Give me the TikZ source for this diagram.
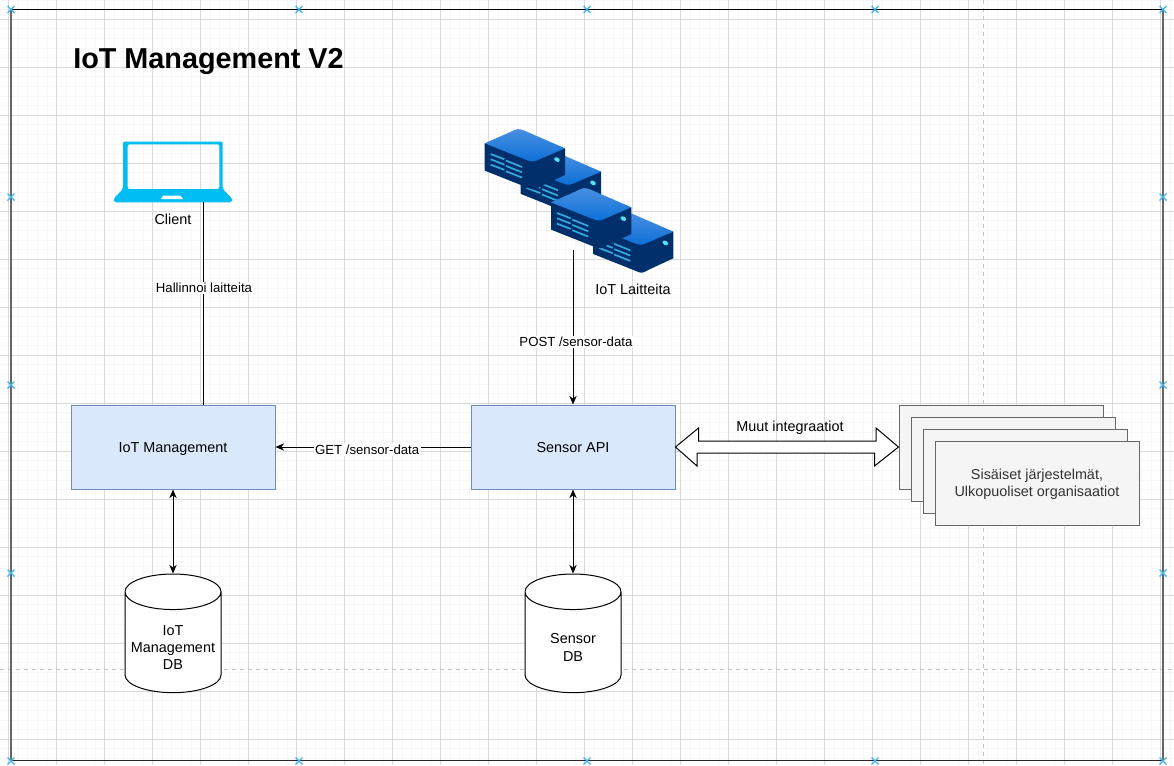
\documentclass[tikz,border=0pt]{standalone}
\usepackage{fontspec}
\setmainfont{Liberation Sans}
\usetikzlibrary{positioning}
\usetikzlibrary{arrows.meta}
\usetikzlibrary{shapes.geometric}
\definecolor{gridmin}{HTML}{F7F7F7}
\definecolor{gridmaj}{HTML}{D9D9D9}
\definecolor{pageln}{HTML}{C4C4C4}
\definecolor{marker}{HTML}{3DB5EE}
\definecolor{laptop}{HTML}{00BEF2}
\definecolor{apifill}{HTML}{DAE8FC}
\definecolor{apidraw}{HTML}{6C8EBF}
\definecolor{sysfill}{HTML}{F5F5F5}
\definecolor{sysdraw}{HTML}{666666}
\definecolor{devtop}{HTML}{4A90E2}
\definecolor{devlow}{HTML}{0B6FD6}
\definecolor{devbody}{HTML}{002F6C}
\definecolor{devvent}{HTML}{35A9DC}
\definecolor{devled}{HTML}{4FE3F5}
\begin{document}
\begin{tikzpicture}[
            x=0.75pt, y=-0.75pt,
            >={Stealth[length=6.5pt,width=5.5pt]},
            apibox/.style={rectangle, draw=apidraw, fill=apifill, line width=0.75pt, minimum width=153pt, minimum height=63pt, text height=8pt, text depth=0pt, font=\fontsize{10.8pt}{13pt}\selectfont},
            sysbox/.style={rectangle, draw=sysdraw, fill=sysfill, line width=0.75pt, minimum width=153pt, minimum height=63pt, text=black!80, align=center, text depth=0pt, font=\fontsize{10.8pt}{12.9pt}\selectfont},
            dbase/.style={cylinder, shape border rotate=90, shape aspect=4, draw=black, fill=white, line width=0.75pt, minimum width=72pt, minimum height=89pt},
            dbtxt/.style={inner sep=0pt, align=center, yshift=-55.5pt, font=\fontsize{10.8pt}{13.1pt}\selectfont},
            lbl/.style={fill=white, inner sep=1pt, font=\fontsize{9.9pt}{11.5pt}\selectfont},
            txt/.style={inner sep=0pt, font=\fontsize{10.8pt}{13pt}\selectfont},
            link/.style={line width=0.75pt, draw=black},
            vent/.style={devvent, line width=1.3pt},
            iotdev/.pic={
                \fill[devbody] (0,0) -- (0,27.3) -- (42,44) .. controls (48.7,47) .. (56,43) -- (80.3,31.7) -- (80.3,5) -- (40,-2) -- cycle;
                \shade[top color=devtop, bottom color=devlow] (0,0) -- (25,-11) .. controls (33,-15) .. (40,-12.5) -- (80.3,5) -- (57,15) .. controls (48,19) .. (40,16) -- cycle;
                \foreach \r in {0,5.3,10.6} {
                    \draw[vent] (6,10.7+\r) -- (19.7,16+\r);
                    \draw[vent] (21.3,17.3+\r) -- (37.3,23.7+\r);
                }
                \fill[devled, rotate around={-30:(72.3,16.3)}] (72.3,16.3) ellipse (3 and 2.1);
            }
        ]
            \useasboundingbox (0,0) rectangle (1174,765);
            \fill[white] (0,0) rectangle (1174,765);

            \foreach \i in {0,...,122} {
                \draw[gridmin, line width=0.75pt] (-0.9+9.6*\i,0) -- (-0.9+9.6*\i,765);
            }
            \foreach \i in {0,...,80} {
                \draw[gridmin, line width=0.75pt] (0,0.1+9.6*\i) -- (1174,0.1+9.6*\i);
            }
            \foreach \i in {0,...,24} {
                \draw[gridmaj, line width=0.75pt] (8.7+48*\i,0) -- (8.7+48*\i,765);
            }
            \foreach \i in {0,...,15} {
                \draw[gridmaj, line width=0.75pt] (0,19.3+48*\i) -- (1174,19.3+48*\i);
            }
            \draw[pageln, dashed, line width=0.75pt] (983,0) -- (983,765);
            \draw[pageln, dashed, line width=0.75pt] (0,669) -- (1174,669);

            \draw[black, line width=1pt] (10.7,9.3) -- (1162.7,9.3);
            \draw[black!85, line width=1pt] (10.7,760.7) -- (1162.7,760.7);
            \draw[sysdraw, line width=1.4pt] (10.7,9.3) -- (10.7,760.7);
            \draw[sysdraw, line width=1.4pt] (1162.7,9.3) -- (1162.7,760.7);
            \foreach \a in {11,299,587,875,1163} {
                \foreach \b in {9.5,761} {
                    \draw[marker, line width=1pt] (\a-3.5,\b-3.5) -- (\a+3.5,\b+3.5) (\a-3.5,\b+3.5) -- (\a+3.5,\b-3.5);
                }
            }
            \foreach \a in {11,1163} {
                \foreach \b in {197,385,573} {
                    \draw[marker, line width=1pt] (\a-3.5,\b-3.5) -- (\a+3.5,\b+3.5) (\a-3.5,\b+3.5) -- (\a+3.5,\b-3.5);
                }
            }

            \node[anchor=west, inner sep=0pt, font=\fontsize{21.6pt}{25pt}\bfseries\selectfont](title) at (73,61.5){IoT Management V2};

            \fill[laptop, even odd rule, rounded corners=1.5pt] (123,189) -- (123,141.5) -- (222.7,141.5) -- (222.7,189) -- (232.7,199) -- (232,202.3) -- (114,202.3) -- (113.3,199) -- cycle
                (127.7,189) -- (219.3,189) -- (219.3,144.3) -- (127.7,144.3) -- cycle;
            \fill[white] (163,195.7) -- (180.5,195.7) -- (183,199) -- (161,199) -- cycle;
            \node[txt](cl) at (173,219){Client};
            \coordinate (clb) at (203,202.3);

            \pic at (520.7,166.6) {iotdev};
            \pic at (593,226.6) {iotdev};
            \pic at (484.7,143.3) {iotdev};
            \pic at (551,202.3) {iotdev};
            \node[txt](dv) at (633,289){IoT Laitteita};
            \coordinate (dvb) at (573,250);

            \node[apibox](im) at (173,447){IoT Management};
                \node[apibox](sa)[right=146.25pt of im]{Sensor API};
                    \node[dbase](idb)[below=63pt of im]{};
                    \node[dbase](sdb)[below=63pt of sa]{};
                        \node[dbtxt](idt) at (idb.north){IoT\\Management\\DB};
                        \node[dbtxt](sdt) at (sdb.north){Sensor\\DB};

            \node[sysbox](sa1) at (1001,447){};
            \node[sysbox](sa2) at (1013,459){};
            \node[sysbox](sa3) at (1025,471){};
            \node[sysbox](sa4) at (1037,483){Sisäiset järjestelmät,\\Ulkopuoliset organisaatiot};

            \draw[link] (clb) -- (clb |- im.north) node[lbl, pos=0.425, xshift=0.75pt]{Hallinnoi laitteita};
            \draw[link, ->] (dvb) -- (sa.north) node[lbl, pos=0.595, xshift=2.2pt]{POST /sensor-data};
            \draw[link, ->] (sa.west) -- (im.east) node[lbl, pos=0.53, yshift=-2pt]{GET /sensor-data};
            \draw[link, <->] (im.south) -- (idb.north);
            \draw[link, <->] (sa.south) -- (sdb.north);
            \draw[link, fill=white, line join=miter] (sa.east) -- ++(23,-19) -- ++(0,13) -- ++(177.5,0) -- ++(0,-13) -- (sa1.west) -- ++(-24,19) -- ++(0,-13) -- ++(-177.5,0) -- ++(0,13) -- cycle;
            \node[txt](mi) at (790,427.5){Muut integraatiot};
        \end{tikzpicture}
\end{document}
